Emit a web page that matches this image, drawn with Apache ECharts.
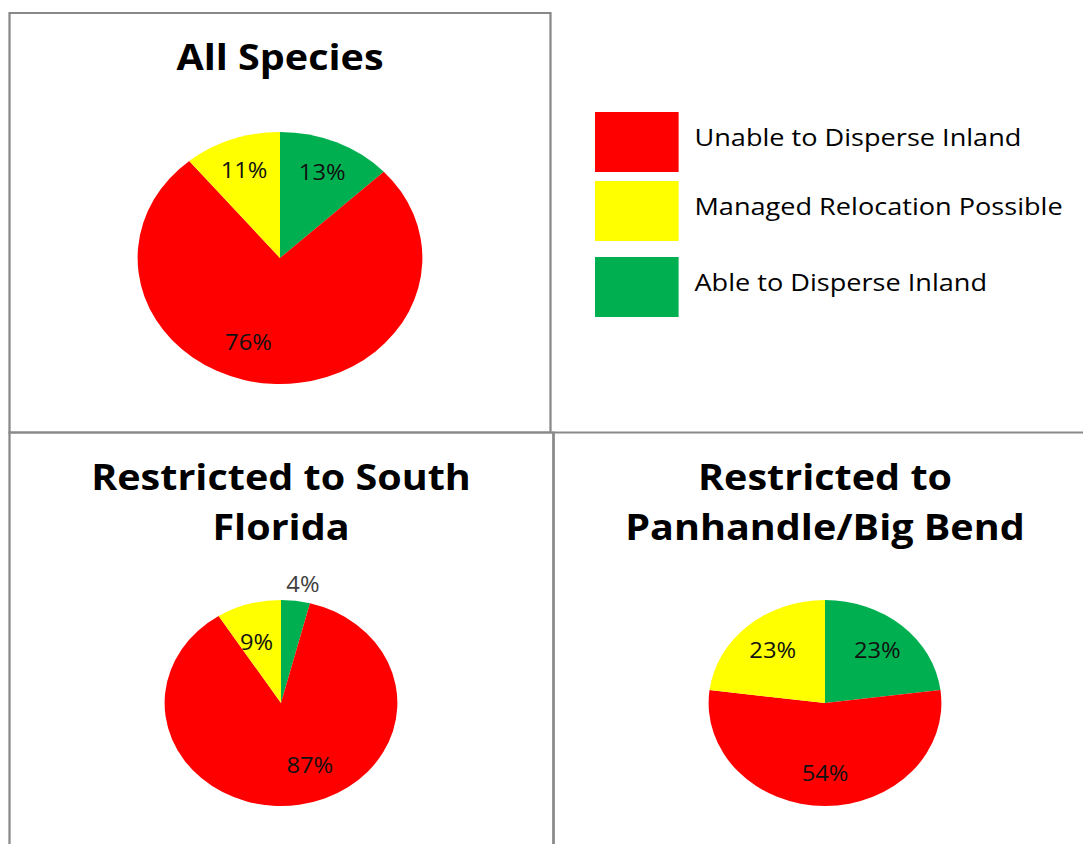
<!DOCTYPE html>
<html>
<head>
<meta charset="utf-8">
<script src="https://cdn.jsdelivr.net/npm/echarts@6/dist/echarts.min.js"></script>
<style>
  html, body { margin: 0; padding: 0; background: #fff; overflow: hidden; width: 1083px; height: 844px; }
  /* the figure is drawn narrow, then widened: pies become ovals and text widens with them */
  #chart { position: absolute; left: 0; top: 0; width: 959px; height: 844px;
           transform: scaleX(1.13); transform-origin: 0 0; }
</style>
</head>
<body>
<div id="chart"></div>
<script>
// ---- data ----
const categories = ['Unable to Disperse Inland', 'Managed Relocation Possible', 'Able to Disperse Inland'];
const categoryColors = ['#ff0000', '#ffff00', '#00b050'];
const panelTitles = ['All Species', 'Restricted to South\nFlorida', 'Restricted to\nPanhandle/Big Bend'];
const allSpecies   = [76, 11, 13];   // percent, in category order
const southFlorida = [87, 9, 4];
const panhandle    = [54, 23, 23];

// slices run clockwise from 12 o'clock: Able, then Unable, then Managed
const sliceOrder = [2, 0, 1];

// ---- layout ----
const STRETCH = 1.13;
const sx = x => x / STRETCH;
const FONT = '"Open Sans", "DejaVu Sans", sans-serif';

const panels = [
  { values: allSpecies,   title: panelTitles[0], cx: 280, cy: 258, r: 126, ring: [56, 126], titleTop: 31,
    nudge: { 0: [-22, -10] } },
  { values: southFlorida, title: panelTitles[1], cx: 281, cy: 703, r: 103, ring: [25, 103], titleTop: 451,
    nudge: { 0: [15, -4], 1: [-3, 3], 2: [11, -52] }, outsideCat: 2 },
  { values: panhandle,    title: panelTitles[2], cx: 825, cy: 703, r: 103, ring: [31, 103], titleTop: 451,
    nudge: {} }
];

function sliceData(p, withLabels) {
  return sliceOrder.map(ci => {
    const item = {
      name: categories[ci],
      value: p.values[ci],
      itemStyle: { color: withLabels ? 'transparent' : categoryColors[ci] }
    };
    if (withLabels) {
      const lbl = {};
      if (p.nudge[ci]) lbl.offset = p.nudge[ci];
      if (p.outsideCat === ci) lbl.color = '#404040';
      item.label = lbl;
    }
    return item;
  });
}

const series = [];
panels.forEach(p => {
  // the coloured pie
  series.push({
    type: 'pie',
    center: [sx(p.cx), p.cy],
    radius: p.r,
    startAngle: 90,
    clockwise: true,
    avoidLabelOverlap: false,
    label: { show: false },
    labelLine: { show: false },
    itemStyle: { borderWidth: 0 },
    emphasis: { disabled: true },
    data: sliceData(p, false)
  });
});
panels.forEach(p => {
  // percentage labels, carried by a clear ring so they sit part-way out from the centre
  series.push({
    type: 'pie',
    center: [sx(p.cx), p.cy],
    radius: p.ring,
    startAngle: 90,
    clockwise: true,
    silent: true,
    avoidLabelOverlap: false,
    itemStyle: { borderWidth: 0 },
    labelLine: { show: false },
    label: {
      show: true,
      position: 'inside',
      formatter: d => d.value + '%',
      fontFamily: FONT,
      fontSize: 21,
      color: '#111'
    },
    emphasis: { disabled: true },
    data: sliceData(p, true)
  });
});

const titles = panels.map(p => ({
  text: p.title,
  left: sx(p.cx),
  top: p.titleTop,
  textAlign: 'center',
  textVerticalAlign: 'top',
  padding: 0,
  textStyle: { fontFamily: FONT, fontWeight: 'bold', fontSize: 35, lineHeight: 50, color: '#000' }
}));

const legendTops = [112, 181, 257];
const legendText = { fontFamily: FONT, fontSize: 24, color: '#000', padding: [0, 0, 10, 9] };
const legends = categories.map((name, i) => ({
  data: [{ name: name, itemStyle: { color: categoryColors[i] } }],
  left: sx(595),
  top: legendTops[i],
  padding: 0,
  icon: 'rect',
  itemWidth: 74,
  itemHeight: 60,
  selectedMode: false,
  formatter: n => '{t|' + n + '}',
  textStyle: { fontFamily: FONT, fontSize: 24, color: '#000', rich: { t: legendText } }
}));

// panel frames
const frameStyle = { fill: 'none', stroke: '#898989', lineWidth: 2 };
const frames = [
  [9.5, 13, 550.5, 432.5],
  [9.5, 432.5, 553.5, 940],
  [553.5, 432.5, 1200, 940]
].map(([x0, y0, x1, y1]) => ({
  type: 'rect',
  silent: true,
  z: 0,
  shape: { x: sx(x0), y: y0, width: sx(x1) - sx(x0), height: y1 - y0 },
  style: frameStyle
}));

const chart = echarts.init(document.getElementById('chart'), null, { renderer: 'svg' });
chart.setOption({
  animation: false,
  backgroundColor: '#ffffff',
  title: titles,
  legend: legends,
  tooltip: { show: false },
  graphic: frames,
  series: series
});
</script>
</body>
</html>
